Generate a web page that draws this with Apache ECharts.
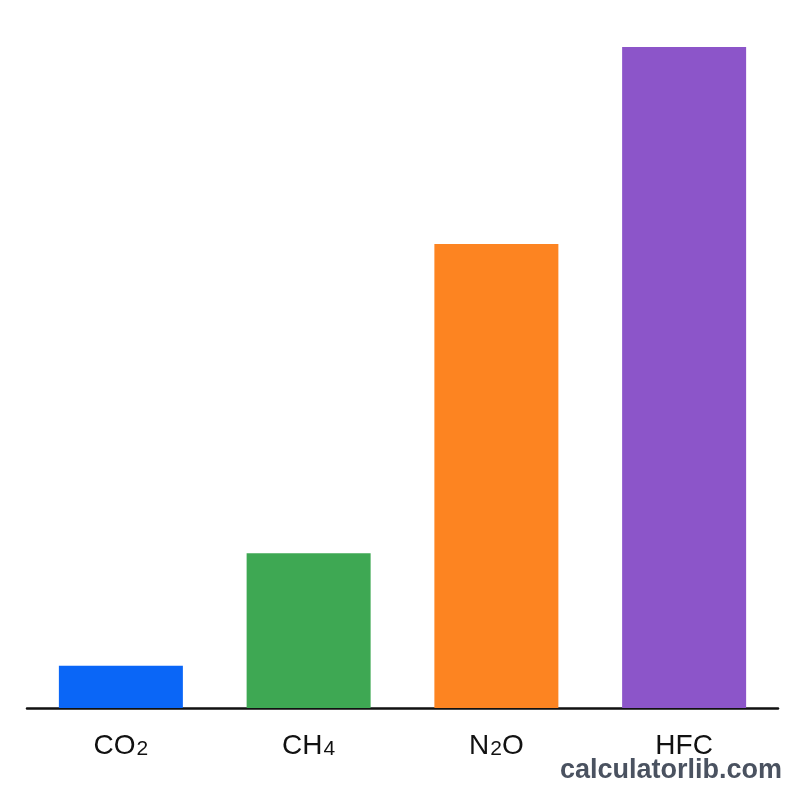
<!DOCTYPE html>
<html>
<head>
<meta charset="utf-8">
<script src="https://cdn.jsdelivr.net/npm/echarts@6/dist/echarts.min.js"></script>
<style>html,body{margin:0;padding:0;background:#fff;}#c{width:800px;height:800px;}</style>
</head>
<body>
<div id="c"></div>
<script>
const categories = ['CO{s|2}', 'CH{s|4}', 'N{s|2}O', 'HFC'];
const values = [6.4, 23.4, 70.2, 100];
const colors = ['#0a66f7', '#3ea853', '#fd8421', '#8c55c9'];

const chart = echarts.init(document.getElementById('c'), null, {renderer: 'canvas'});
chart.setOption({
  backgroundColor: '#ffffff',
  animation: false,
  grid: {left: 27, right: 22, top: 47, bottom: 92},
  xAxis: {
    type: 'category',
    data: categories,
    axisLine: {show: true, lineStyle: {color: '#111', width: 2.5}},
    axisTick: {show: false},
    axisLabel: {
      margin: 24,
      color: '#111',
      fontFamily: 'Liberation Sans, Arial, sans-serif',
      fontSize: 28,
      rich: {
        s: {fontSize: 21, color: '#111', fontFamily: 'Liberation Sans, Arial, sans-serif', verticalAlign: 'bottom', padding: [0,0,0,1]}
      }
    }
  },
  yAxis: {
    type: 'value', min: 0, max: 100, show: false,
    splitLine: {show: false}
  },
  series: [{
    type: 'bar',
    barWidth: 124,
    data: values.map((v, i) => ({value: v, itemStyle: {color: colors[i]}}))
  }],
  graphic: [{
    type: 'text',
    right: 18,
    top: 757,
    style: {
      text: 'calculatorlib.com',
      fontFamily: 'Liberation Sans, Arial, sans-serif',
      fontWeight: 'bold',
      fontSize: 27,
      fill: '#4a5260'
    }
  }]
});
</script>
</body>
</html>
